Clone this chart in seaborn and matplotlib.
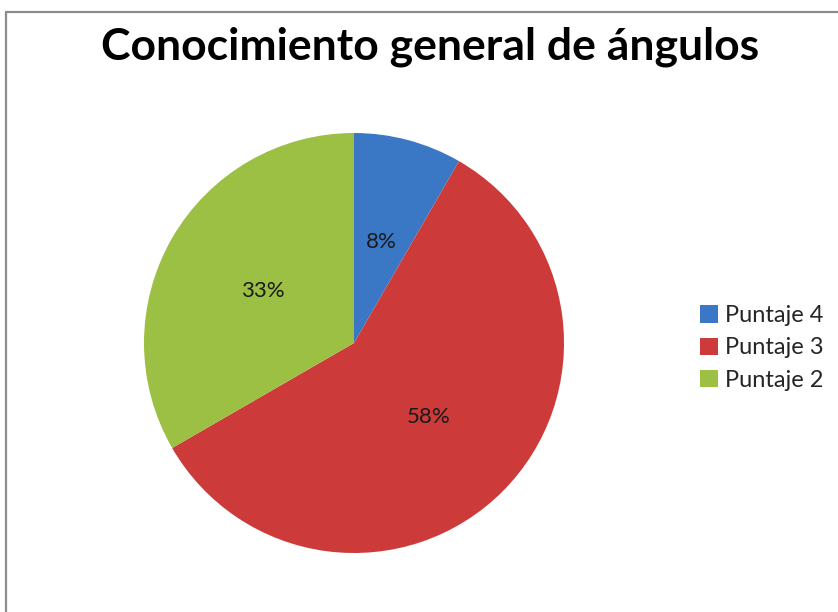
import matplotlib
matplotlib.use("Agg")
import matplotlib.pyplot as plt
from matplotlib.lines import Line2D
from matplotlib.patches import Patch
import seaborn as sns

TITLE = "Conocimiento general de ángulos"
CATEGORIES = ["Puntaje 4", "Puntaje 3", "Puntaje 2"]
COUNTS = [1, 7, 4]
COLORS = ["#3a78c6", "#cc3a3a", "#9bc043"]


def main():
    sns.set_theme(style="white")
    plt.rcParams["font.family"] = ["Lato", "DejaVu Sans"]

    fig = plt.figure(figsize=(8.38, 6.12), dpi=100)
    fig.patch.set_facecolor("white")

    # chart frame (left and top edges visible)
    fig.add_artist(Line2D([6 / 838, 6 / 838], [0, 1 - 12 / 612],
                          transform=fig.transFigure, color="#8c8c8c", lw=1.6))
    fig.add_artist(Line2D([6 / 838, 1], [1 - 12 / 612, 1 - 12 / 612],
                          transform=fig.transFigure, color="#8c8c8c", lw=1.6))

    ax = fig.add_axes([144 / 838, 59 / 612, 420 / 838, 420 / 612])
    wedges, _, autotexts = ax.pie(
        COUNTS, colors=COLORS, startangle=90, counterclock=False,
        autopct="%.0f%%", pctdistance=0.5, radius=1,
        wedgeprops=dict(linewidth=0),
        textprops=dict(fontsize=16, color="#1a1a1a"),
    )
    ax.set_xlim(-1, 1)
    ax.set_ylim(-1, 1)

    fig.text(430 / 838, 1 - 47 / 612, TITLE, ha="center", va="center",
             fontsize=32, fontweight="bold", color="black")

    handles = [Patch(facecolor=c, edgecolor="none") for c in COLORS]
    fig.legend(handles, CATEGORIES, loc="center left",
               bbox_to_anchor=(700 / 838, 1 - 348 / 612), frameon=False,
               fontsize=17, handlelength=0.75, handleheight=0.75,
               handletextpad=0.3, labelspacing=0.48, borderaxespad=0,
               borderpad=0)

    fig.savefig("out.png", dpi=100)


if __name__ == "__main__":
    main()
